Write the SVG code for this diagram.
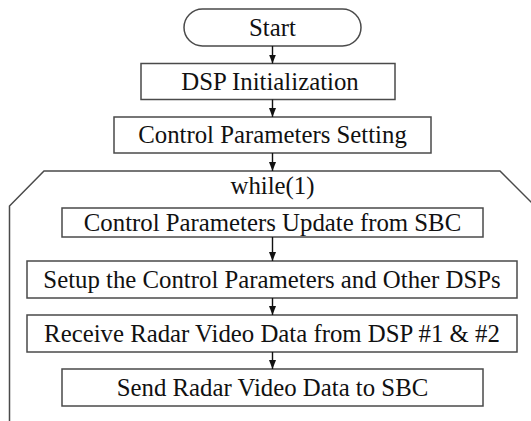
<svg xmlns="http://www.w3.org/2000/svg" width="531" height="421" viewBox="0 0 531 421">
  <style>
    .box { fill: #ffffff; stroke: #4a4a4a; stroke-width: 1.5; }
    .loop { fill: none; stroke: #4a4a4a; stroke-width: 1.5; }
    .lbl { font-size: 24.8px; fill: #111111; text-anchor: middle; }
    .edge { stroke: #111111; stroke-width: 1.4; fill: none; marker-end: url(#arrow); }
  </style>
  <defs>
    <marker id="arrow" markerWidth="9" markerHeight="7" refX="9" refY="3.5" orient="auto" markerUnits="userSpaceOnUse">
      <path d="M0,0 L9,3.5 L0,7 Z" fill="#111111"/>
    </marker>
  </defs>
  <rect width="531" height="421" fill="#ffffff"/>

  <g font-family="'Liberation Serif', 'Times New Roman', serif">
    <g id="start">
      <rect class="box" x="184" y="9" width="177" height="37" rx="18.5" ry="18.5"/>
      <text class="lbl" x="272.5" y="35.6">Start</text>
    </g>

    <g id="dsp-init">
      <rect class="box" x="141" y="63.5" width="254" height="36"/>
      <text class="lbl" x="270" y="89.6">DSP Initialization</text>
    </g>

    <g id="param-setting">
      <rect class="box" x="114" y="117" width="317" height="36"/>
      <text class="lbl" x="272.5" y="143">Control Parameters Setting</text>
    </g>

    <g id="loop">
      <path class="loop" d="M9.5,421 V206 L44,171 H500 L535,206"/>
      <text class="lbl" x="272.5" y="194">while(1)</text>
    </g>

    <g id="param-update">
      <rect class="box" x="62" y="208" width="421" height="29"/>
      <text class="lbl" x="272.5" y="230.8">Control Parameters Update from SBC</text>
    </g>

    <g id="setup-dsps">
      <rect class="box" x="27" y="261" width="490" height="37"/>
      <text class="lbl" x="272" y="287.6">Setup the Control Parameters and Other DSPs</text>
    </g>

    <g id="receive-video">
      <rect class="box" x="27" y="315" width="490" height="37"/>
      <text class="lbl" x="272" y="341.6">Receive Radar Video Data from DSP #1 &amp; #2</text>
    </g>

    <g id="send-video">
      <rect class="box" x="62" y="369" width="421" height="37"/>
      <text class="lbl" x="272.5" y="395.6">Send Radar Video Data to SBC</text>
    </g>
  </g>

  <g id="connectors">
    <line class="edge" x1="272.5" y1="46" x2="272.5" y2="63.5"/>
    <line class="edge" x1="272.5" y1="99.5" x2="272.5" y2="117"/>
    <line class="edge" x1="272.5" y1="153" x2="272.5" y2="171"/>
    <line class="edge" x1="272.5" y1="237" x2="272.5" y2="261"/>
    <line class="edge" x1="272.5" y1="298" x2="272.5" y2="315"/>
    <line class="edge" x1="272.5" y1="352" x2="272.5" y2="369"/>
  </g>
</svg>
